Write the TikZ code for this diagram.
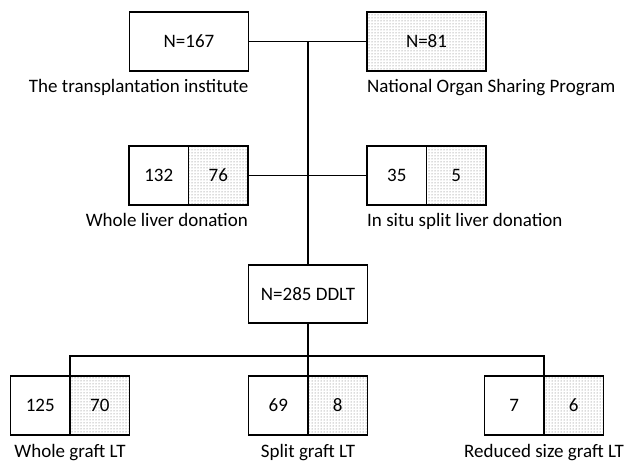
\documentclass[tikz,border=0pt]{standalone}
\usepackage{fontspec}
\setmainfont{Carlito}
\usetikzlibrary{positioning,patterns}

\tikzset{
	cell/.style={draw, line width=1.1pt, outer sep=0pt, inner sep=0pt,
		minimum width=59.5pt, minimum height=59pt},
	dotcell/.style={cell, pattern=dots, pattern color=black!60},
	widebox/.style={cell, minimum width=119pt},
	caption/.style={inner sep=0pt},
	link/.style={line width=1.1pt}
}

\begin{document}
\begin{tikzpicture}[x=1pt,y=-1pt,font=\fontsize{19}{23}\selectfont]
				\useasboundingbox (0,0) rectangle (626,462);
				
				% draw the two sources
				\node[widebox] (inst) at (189,41.5) {N=167};
				\node[widebox,pattern=dots,pattern color=black!60] (nosp) at (426.5,41.5) {N=81};
				\node[caption,below left=8pt and 0pt of inst.south east] {The transplantation institute};
				\node[caption,below right=8pt and 0pt of nosp.south west] {National Organ Sharing Program};
				
				% draw donation types
				\node[cell] (whl1) at (158.75,175.5) {132};
				\node[dotcell,right=0pt of whl1] (whl2) {76};
				\node[cell] (spl1) at (396.75,175.5) {35};
				\node[dotcell,right=0pt of spl1] (spl2) {5};
				\node[caption,below left=8pt and 0pt of whl2.south east] {Whole liver donation};
				\node[caption,below right=8pt and 0pt of spl1.south west] {In situ split liver donation};
				
				% draw the total
				\node[widebox,minimum height=58pt] (ddlt) at (308,294) {N=285 DDLT};
				
				% draw graft types
				\node[cell] (wg1) at (40.25,405.5) {125};
				\node[dotcell,right=0pt of wg1] (wg2) {70};
				\node[cell] (sg1) at (278.25,405.5) {69};
				\node[dotcell,right=0pt of sg1] (sg2) {8};
				\node[cell] (rg1) at (514.25,405.5) {7};
				\node[dotcell,right=0pt of rg1] (rg2) {6};
				\node[caption,below=9pt of wg1.south east] {Whole graft LT};
				\node[caption,below=9pt of sg1.south east] {Split graft LT};
				\node[caption,below=9pt of rg1.south east] {Reduced size graft LT};
				
				% draw connecting lines
				\coordinate (top) at (308,41.5);
				\coordinate (bus) at (308,356);
				\draw[link] (inst.east) -- (nosp.west);
				\draw[link] (whl2.east) -- (spl1.west);
				\draw[link] (top) -- (ddlt.north);
				\draw[link] (ddlt.south) -- (bus);
				\draw[link] (wg1.north east) |- (bus) -| (rg1.north east);
				\draw[link] (bus) -- (sg1.north east);
			\end{tikzpicture}
\end{document}
